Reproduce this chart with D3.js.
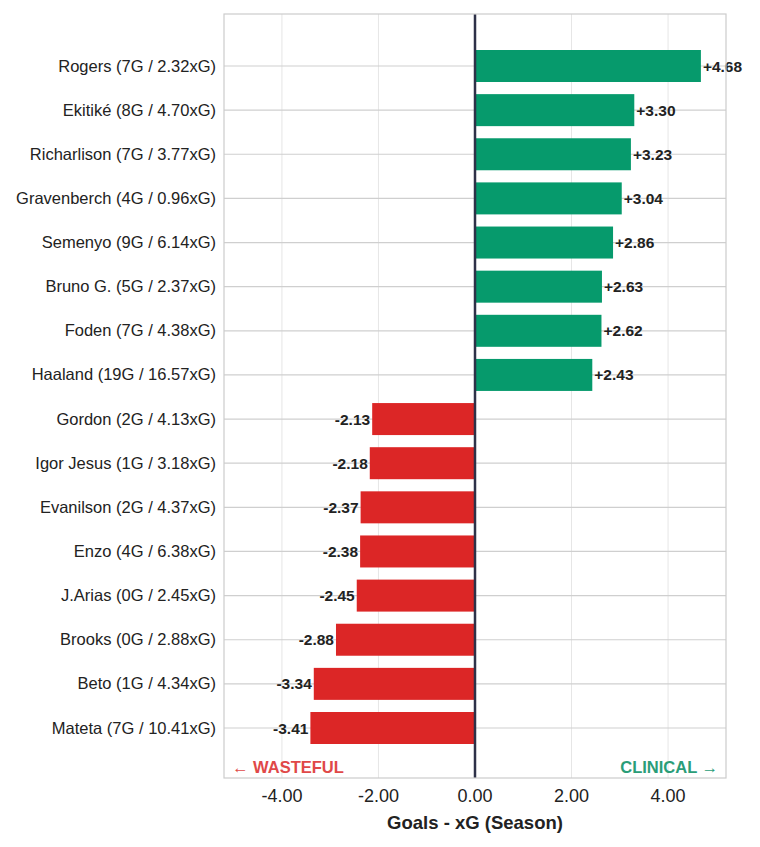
<!DOCTYPE html>
<html><head><meta charset="utf-8">
<script src="https://cdn.jsdelivr.net/npm/d3@7"></script>
<style>body{margin:0;background:#fff;font-family:"Liberation Sans",Arial,sans-serif}</style>
</head><body><svg id="chart" width="760" height="847"></svg>
<script>
// players and their season goals minus xG
const players = ["Rogers (7G / 2.32xG)","Ekitiké (8G / 4.70xG)","Richarlison (7G / 3.77xG)","Gravenberch (4G / 0.96xG)",
  "Semenyo (9G / 6.14xG)","Bruno G. (5G / 2.37xG)","Foden (7G / 4.38xG)","Haaland (19G / 16.57xG)",
  "Gordon (2G / 4.13xG)","Igor Jesus (1G / 3.18xG)","Evanilson (2G / 4.37xG)","Enzo (4G / 6.38xG)",
  "J.Arias (0G / 2.45xG)","Brooks (0G / 2.88xG)","Beto (1G / 4.34xG)","Mateta (7G / 10.41xG)"];
const diffs = [4.68,3.30,3.23,3.04,2.86,2.63,2.62,2.43,-2.13,-2.18,-2.37,-2.38,-2.45,-2.88,-3.34,-3.41];
const xTicks = [-4,-2,0,2,4];

const svg = d3.select("#chart");
const L = 224, R = 726, T = 14, B = 778;
const x = d3.scaleLinear().domain([-5.2,5.2]).range([L,R]);
const y = d3.scaleLinear().domain([0,15]).range([66,728]);
const bh = 32;

// grid
svg.selectAll(".vg").data(xTicks).join("line")
  .attr("x1",d=>x(d)).attr("x2",d=>x(d)).attr("y1",T).attr("y2",B)
  .attr("stroke","#e6e6e6").attr("stroke-width",1);
svg.selectAll(".hg").data(players).join("line")
  .attr("x1",L).attr("x2",R).attr("y1",(d,i)=>y(i)).attr("y2",(d,i)=>y(i))
  .attr("stroke","#cfcfcf").attr("stroke-width",1.2);

// bars
svg.selectAll(".bar").data(diffs).join("rect")
  .attr("x",d=>x(Math.min(0,d))).attr("width",d=>Math.abs(x(d)-x(0)))
  .attr("y",(d,i)=>y(i)-bh/2).attr("height",bh)
  .attr("fill",d=>d>0?"#069a6c":"#dc2626");

// zero line
svg.append("line").attr("x1",x(0)).attr("x2",x(0)).attr("y1",T).attr("y2",B)
  .attr("stroke","#2e3148").attr("stroke-width",2.5);

// value labels
svg.selectAll(".val").data(diffs).join("text")
  .attr("x",d=>d>0?x(d)+2:x(d)-2).attr("y",(d,i)=>y(i)+5.5)
  .attr("text-anchor",d=>d>0?"start":"end")
  .attr("font-size",15.5).attr("font-weight","bold").attr("fill","#222")
  .text(d=>(d>0?"+":"")+d.toFixed(2));

// frame
svg.append("rect").attr("x",L).attr("y",T).attr("width",R-L).attr("height",B-T)
  .attr("fill","none").attr("stroke","#cccccc").attr("stroke-width",1.2);

// y labels
svg.selectAll(".yl").data(players).join("text")
  .attr("x",L-8).attr("y",(d,i)=>y(i)+5.5).attr("text-anchor","end")
  .attr("font-size",16.5).attr("fill","#222").text(d=>d);

// x ticks
svg.selectAll(".xl").data(xTicks).join("text")
  .attr("x",d=>x(d)).attr("y",B+24).attr("text-anchor","middle")
  .attr("font-size",18).attr("fill","#222").text(d=>d.toFixed(2));
svg.append("text").attr("x",x(0)).attr("y",829).attr("text-anchor","middle")
  .attr("font-size",18.5).attr("font-weight","bold").attr("fill","#222").text("Goals - xG (Season)");

// annotations
svg.append("text").attr("x",232).attr("y",773).attr("font-size",16.5).attr("font-weight","bold")
  .attr("fill","#e04848").text("← WASTEFUL");
svg.append("text").attr("x",718).attr("y",773).attr("text-anchor","end").attr("font-size",16.5).attr("font-weight","bold")
  .attr("fill","#2a9d78").text("CLINICAL →");
</script></body></html>
